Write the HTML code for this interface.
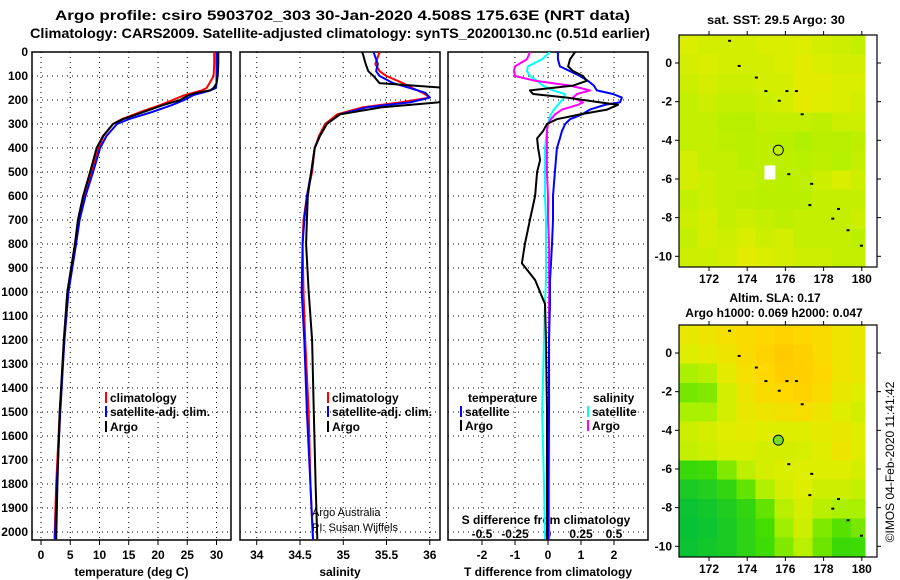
<!DOCTYPE html>
<html><head><meta charset="utf-8">
<style>
html,body{margin:0;padding:0;background:#fff;}
svg{display:block;font-family:"Liberation Sans",sans-serif;}
.t{font-weight:bold;font-size:12px;fill:#000;}
.ti{font-weight:bold;font-size:14px;fill:#000;}
.grid{stroke:#000;stroke-width:1;stroke-dasharray:1,4;}
</style></head>
<body>
<svg id="chart" width="900" height="580" viewBox="0 0 900 580">
<text class="ti" x="55" y="20" textLength="575" lengthAdjust="spacingAndGlyphs">Argo profile: csiro 5903702_303 30-Jan-2020 4.508S 175.63E (NRT data)</text>
<text class="ti" x="30" y="38" textLength="620" lengthAdjust="spacingAndGlyphs">Climatology: CARS2009. Satellite-adjusted climatology: synTS_20200130.nc (0.51d earlier)</text>
<defs>
<clipPath id="c1"><rect x="32" y="52" width="199" height="488"/></clipPath>
<clipPath id="c2"><rect x="240" y="52" width="200" height="488"/></clipPath>
<clipPath id="c3"><rect x="448" y="52" width="200" height="488"/></clipPath>
</defs>
<g id="p1"></g>
<g id="p2"></g>
<g id="p3"></g>
<g id="m1"></g>
<g id="m2"></g>
<text x="776" y="24" text-anchor="middle" class="t" textLength="138" lengthAdjust="spacingAndGlyphs">sat. SST: 29.5 Argo: 30</text>
<text x="775" y="302" text-anchor="middle" class="t">Altim. SLA: 0.17</text>
<text x="774" y="317" text-anchor="middle" class="t">Argo h1000: 0.069 h2000: 0.047</text>
<text transform="translate(894,462) rotate(-90)" text-anchor="middle" style="font-size:12px">©IMOS 04-Feb-2020 11:41:42</text>
<text x="312" y="516" style="font-size:11px">Argo Australia</text>
<text x="312" y="531" style="font-size:11px">PI: Susan Wijffels</text>
</svg>
<script>
const NS='http://www.w3.org/2000/svg';
const tDepth=[0,50,100,130,150,160,170,180,200,220,250,280,300,350,400,500,600,700,800,1000,1200,1500,1800,2030];
const argoT=[30.3,30.3,30.2,30.0,29.5,28.9,26.6,25.2,23.8,21,17.5,14,12.3,10.6,9.5,8.4,7.2,6.3,5.8,4.5,3.9,3.2,2.8,2.6];
const climT=[29.6,29.6,29.5,28.8,28.3,27.5,26,24.5,22.5,20.5,17.0,13.8,12.3,10.7,9.8,8.6,7.4,6.5,5.9,4.6,4.0,3.2,2.6,2.3];
const satT=[30,30,30,30,29.9,29,27.5,26,24.5,22.5,19,15,13,11.2,10.1,8.9,7.6,6.6,6.0,4.7,4.0,3.3,2.7,2.4];
const sDepth=[0,50,80,100,130,150,170,190,210,230,260,300,350,400,500,600,700,800,1000,1200,1500,1800,2030];
const argoS=[35.22,35.26,35.29,35.35,35.42,36.2,36.2,36.2,36.1,35.45,34.96,34.81,34.73,34.67,34.63,34.59,34.58,34.57,34.6,34.64,34.66,34.68,34.7];
const climS=[35.42,35.37,35.42,35.5,35.69,35.8,35.92,36.0,35.66,35.23,34.93,34.79,34.72,34.67,34.64,34.58,34.54,34.53,34.54,34.56,34.6,34.62,34.65];
const satS=[35.35,35.4,35.38,35.42,35.58,35.77,35.95,36.0,35.77,35.28,34.96,34.81,34.73,34.67,34.63,34.58,34.55,34.53,34.52,34.55,34.58,34.62,34.65];
const dDepth=[0,30,60,80,100,120,140,160,175,190,210,220,240,260,280,300,330,360,400,450,500,600,700,800,880,950,1050,1200,1500,1800,2030];
const argoTd=[0.82,0.67,0.61,0.76,1.06,1.18,0.76,-0.55,-0.45,0.58,1.58,2.12,1.79,0.97,0.27,-0.03,-0.15,-0.33,-0.30,-0.24,-0.33,-0.39,-0.55,-0.7,-0.79,-0.39,-0.09,-0.06,-0.03,-0.03,-0.03];
const satTd=[0.3,0.3,0.36,0.67,0.97,1.21,1.39,1.48,1.97,2.24,2.18,1.73,1.27,1.03,0.67,0.52,0.42,0.36,0.27,0.24,0.21,0.15,0.15,0.12,0.09,0.06,0.06,0.03,0.03,0,0];
const argoSd=[-0.136,-0.159,-0.25,-0.258,-0.25,-0.098,0.167,0.318,0.22,0.189,0.265,0.227,0.106,0.053,0.023,0,-0.008,-0.008,-0.008,-0.008,-0.008,0,0,0.008,0.008,0.008,0.008,0.008,0.008,0.008,0.008];
const satSd=[0.015,-0.045,-0.152,-0.159,-0.136,-0.083,-0.038,0.038,0.129,0.121,0.091,0.076,0.045,0.023,0.008,0,-0.008,-0.015,-0.023,-0.023,-0.023,-0.023,-0.015,-0.015,-0.015,-0.015,-0.023,-0.03,-0.045,-0.03,-0.023];
const depthTicks=[0,100,200,300,400,500,600,700,800,900,1000,1100,1200,1300,1400,1500,1600,1700,1800,1900,2000];
const tTicks=[0,5,10,15,20,25,30];
const sTicks=[34,34.5,35,35.5,36];
const sTickLabels=['34','34.5','35','35.5','36'];
const tdTicks=[-2,-1,0,1,2];
const sdTicks=[-0.5,-0.25,0,0.25,0.5];
const sdTickLabels=['-0.5','-0.25','0','0.25','0.5'];
const lonTicks=[172,174,176,178,180];
const latTicks=[0,-2,-4,-6,-8,-10];
const sstGrid=[
[.64,.62,.62,.62,.64,.64,.65,.62,.6,.58],
[.62,.64,.62,.62,.62,.64,.67,.64,.62,.62],
[.6,.62,.6,.6,.62,.62,.67,.67,.64,.64],
[.58,.6,.58,.58,.6,.62,.68,.66,.64,.62],
[.58,.58,.55,.54,.58,.58,.58,.56,.6,.6],
[.58,.58,.56,.55,.56,.55,.52,.55,.54,.56],
[.62,.58,.58,.55,.56,.56,.55,.56,.53,.58],
[.62,.6,.58,.58,.56,.55,.56,.6,.64,.6],
[.58,.6,.58,.56,.55,.55,.55,.58,.58,.58],
[.6,.62,.58,.6,.58,.56,.58,.58,.58,.6],
[.58,.62,.6,.64,.6,.62,.58,.58,.58,.55],
[.6,.6,.62,.67,.64,.62,.6,.6,.58,.58]];
const slaGrid=[
[.7,.72,.75,.78,.8,.82,.8,.78,.72,.7],
[.65,.68,.72,.78,.82,.86,.84,.78,.72,.7],
[.5,.55,.68,.75,.8,.85,.84,.8,.72,.7],
[.4,.42,.62,.72,.78,.8,.82,.78,.7,.65],
[.5,.5,.62,.7,.72,.74,.76,.72,.65,.62],
[.6,.62,.66,.68,.66,.65,.66,.68,.7,.65],
[.58,.6,.64,.64,.62,.62,.63,.66,.72,.66],
[.25,.28,.42,.56,.62,.64,.65,.65,.65,.62],
[.12,.15,.22,.36,.52,.62,.65,.6,.6,.58],
[.05,.08,.14,.22,.36,.54,.62,.55,.5,.5],
[.03,.06,.12,.2,.3,.48,.6,.42,.34,.4],
[.05,.08,.12,.2,.28,.42,.55,.38,.26,.28]];
const floatLon=175.63, floatLat=-4.508;
const islandLon=[173.0,173.5,174.4,174.9,175.6,176.0,176.5,176.8,176.1,177.3,177.2,178.4,178.7,179.2,179.9];
const islandLat=[1.2,-0.1,-0.7,-1.4,-1.9,-1.4,-1.4,-2.6,-5.7,-6.2,-7.3,-8.0,-7.5,-8.6,-9.4];

function el(tag,attrs,parent){const e=document.createElementNS(NS,tag);for(const k in attrs)e.setAttribute(k,attrs[k]);parent.appendChild(e);return e;}
const Y=d=>52+d*0.24;
const xT=v=>41+v*5.85;
const xS=v=>300+(v-34.5)*86.5;
const xTd=v=>548+v*33;
const xSd=v=>548+v*132;
const TOP=52,BOT=540;

function frame(g,x0,x1,xs,xticks,labels,axisTitle){
  depthTicks.forEach(d=>{const l=el('line',{x1:x0,x2:x1,y1:Y(d),y2:Y(d),class:'grid'},g);
    
    });
  xticks.forEach((v,i)=>{const x=xs(v);
    const l=el('line',{x1:x,x2:x,y1:TOP,y2:BOT,class:'grid'},g);
    
    
    el('line',{x1:x,x2:x,y1:BOT,y2:BOT+5,stroke:'#000','stroke-width':1},g);
    if(labels){const t=el('text',{x:x,y:559,'text-anchor':'middle',class:'t'},g);t.textContent=labels[i];
      
      }
  });
  const r=el('rect',{x:x0,y:TOP,width:x1-x0,height:BOT-TOP,fill:'none',stroke:'#000','stroke-width':1.5},g);
  
  
  if(axisTitle){const t=el('text',{x:(x0+x1)/2,y:576,'text-anchor':'middle',class:'t'},g);t.textContent=axisTitle;
    
    }
}
function series(g,depths,vals,xs,color,clip,name){
  const pts=depths.map((d,i)=>xs(vals[i]).toFixed(1)+','+Y(d).toFixed(1)).join(' ');
  const p=el('polyline',{points:pts,fill:'none',stroke:color,'stroke-width':2,'clip-path':'url(#'+clip+')','stroke-linejoin':'round'},g);
  
  
}
function legend(g,x,y,color,label){
  el('rect',{x:x,y:y-10,width:2,height:11,fill:color},g);
  const t=el('text',{x:x+5,y:y,class:'t'},g);t.textContent=label;
  
  
}
const p1=document.getElementById('p1'),p2=document.getElementById('p2'),p3=document.getElementById('p3');
frame(p1,32,231,xT,tTicks,tTicks.map(String),'temperature (deg C)');
depthTicks.forEach(d=>{const t=el('text',{x:28,y:Y(d)+4,'text-anchor':'end',class:'t'},p1);t.textContent=d;
  
  });
series(p1,tDepth,climT,xT,'#f00','c1','climatology-temp-line');
series(p1,tDepth,satT,xT,'#00f','c1','satellite-temp-line');
series(p1,tDepth,argoT,xT,'#000','c1','argo-temp-line');
legend(p1,105,402,'#f00','climatology');legend(p1,105,416,'#00f','satellite-adj. clim.');legend(p1,105,431,'#000','Argo');
frame(p2,240,440,xS,sTicks,sTickLabels,'salinity');
series(p2,sDepth,climS,xS,'#f00','c2','climatology-sal-line');
series(p2,sDepth,satS,xS,'#00f','c2','satellite-sal-line');
series(p2,sDepth,argoS,xS,'#000','c2','argo-sal-line');
legend(p2,327,402,'#f00','climatology');legend(p2,327,416,'#00f','satellite-adj. clim.');legend(p2,327,431,'#000','Argo');
frame(p3,448,648,xTd,tdTicks,tdTicks.map(String),'T difference from climatology');
sdTicks.forEach((v,i)=>{const t=el('text',{x:xSd(v),y:538,'text-anchor':'middle',class:'t'},p3);t.textContent=sdTickLabels[i];
  
  });
const st=el('text',{x:546,y:524,'text-anchor':'middle',class:'t'},p3);st.textContent='S difference from climatology';


series(p3,dDepth,satSd,xSd,'#0ff','c3','satellite-sal-diff-line');
series(p3,dDepth,argoSd,xSd,'#f0f','c3','argo-sal-diff-line');
series(p3,dDepth,satTd,xTd,'#00f','c3','satellite-temp-diff-line');
series(p3,dDepth,argoTd,xTd,'#000','c3','argo-temp-diff-line');
const lt=el('text',{x:468,y:402,class:'t'},p3);lt.textContent='temperature';


const ls=el('text',{x:593,y:402,class:'t'},p3);ls.textContent='salinity';


legend(p3,460,416,'#00f','satellite');legend(p3,460,430,'#000','Argo');
legend(p3,587,416,'#0ff','satellite');legend(p3,587,430,'#f0f','Argo');

const stops=[[0,[0,190,60]],[0.3,[68,221,0]],[0.5,[170,240,0]],[0.65,[221,238,0]],[0.8,[255,216,0]],[1,[255,170,0]]];
function cmap(v){for(let i=1;i<stops.length;i++){if(v<=stops[i][0]){const a=stops[i-1],b=stops[i],f=(v-a[0])/(b[0]-a[0]);
  return 'rgb('+a[1].map((c,k)=>Math.round(c+(b[1][k]-c)*f)).join(',')+')';}}return 'rgb(255,170,0)';}
function drawMap(g,top,grid,filled){
  const xL=l=>709+(l-172)*19.1;
  const yL=l=>top+28-19.33*l;
  const lon0=170.43,lat0=1.45,lonMax=180.17;
  grid.forEach((row,j)=>row.forEach((v,i)=>{
    const xa=xL(lon0+i),xb=Math.min(xL(lon0+i+1),xL(lonMax));
    const c=el('rect',{x:xa,y:yL(lat0-j),width:xb-xa+0.5,height:19.33+0.5,fill:cmap(v),'shape-rendering':'crispEdges'},g);
    
    
  }));
  islandLon.forEach((l,i)=>{const d=el('rect',{x:xL(l),y:yL(islandLat[i]),width:3,height:2,fill:'#000'},g);
    
    });
  if(!filled){const w=el('rect',{x:xL(174.9),y:yL(-5.3),width:11,height:14,fill:'#fff'},g);
    
    }
  const c=el('circle',{cx:xL(floatLon),cy:yL(floatLat),r:5,fill:filled?'#77dd22':'none',stroke:'#000','stroke-width':1},g);
  
  
  const fr=el('rect',{x:679,y:top,width:198,height:232,fill:'none',stroke:'#000','stroke-width':1.2},g);
  
  
  lonTicks.forEach(l=>{const x=xL(l);
    el('line',{x1:x,x2:x,y1:top,y2:top-4,stroke:'#000'},g);
    el('line',{x1:x,x2:x,y1:top+232,y2:top+236,stroke:'#000'},g);
    const t=el('text',{x:x,y:top+248,'text-anchor':'middle',class:'t'},g);t.textContent=l;
    
    });
  latTicks.forEach(l=>{const y=yL(l);
    el('line',{x1:679,x2:675,y1:y,y2:y,stroke:'#000'},g);
    el('line',{x1:877,x2:881,y1:y,y2:y,stroke:'#000'},g);
    const t=el('text',{x:672,y:y+4,'text-anchor':'end',class:'t'},g);t.textContent=l;
    
    });
}
drawMap(document.getElementById('m1'),35,sstGrid,false);
drawMap(document.getElementById('m2'),325,slaGrid,true);
</script>
</body></html>
